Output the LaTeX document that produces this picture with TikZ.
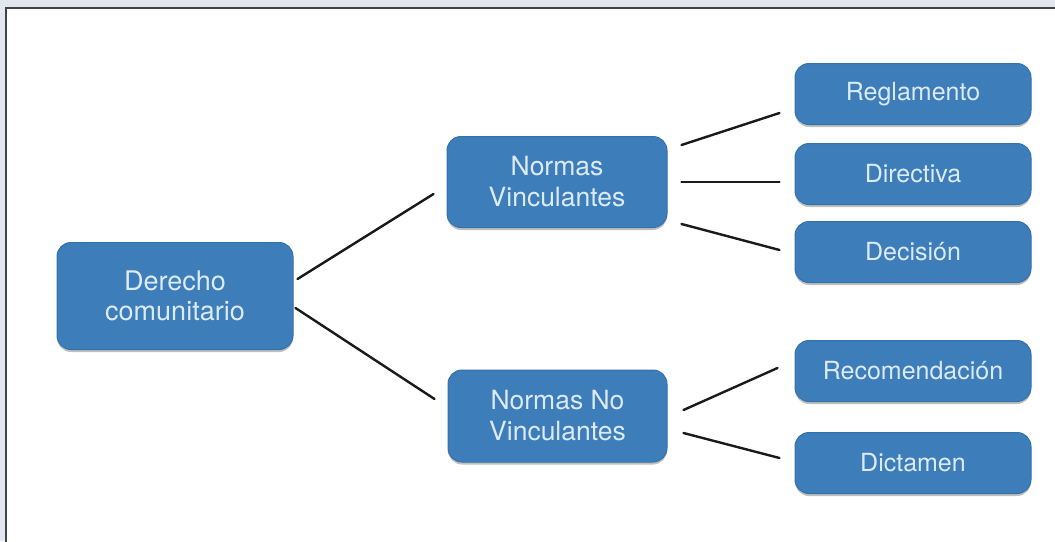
\documentclass[tikz,border=0pt]{standalone}
\usepackage{fontspec}
\setmainfont{TeX Gyre Heros}
\usetikzlibrary{shadows}
\definecolor{bgc}{HTML}{E2E7EF}
\definecolor{boxblue}{HTML}{3C7DBA}
\definecolor{boxedge}{HTML}{3472AD}
\definecolor{txtc}{HTML}{DCEAF6}
\definecolor{framec}{HTML}{444444}
\definecolor{linec}{HTML}{1A1A1A}
\tikzset{
  box/.style={rectangle, rounded corners=14pt, fill=boxblue, draw=boxedge, line width=1pt,
    text=txtc, align=center, inner sep=0pt,
    drop shadow={shadow xshift=0pt, shadow yshift=-2.5pt, opacity=0.25, fill=black}},
  bigbox/.style={box, font=\fontsize{27}{30}\selectfont},
  midbox/.style={box, font=\fontsize{26.5}{31}\selectfont},
  smallbox/.style={box, font=\fontsize{25}{30}\selectfont, minimum width=236pt, minimum height=61pt},
  conn/.style={draw=linec, line width=2.4pt, line cap=round}
}
\begin{document}
\begin{tikzpicture}[x=1pt, y=-1pt]
\useasboundingbox (0,0) rectangle (1055,541);
\clip (0,0) rectangle (1055,541);
\fill[bgc] (0,0) rectangle (1055,541);
\filldraw[fill=white, draw=framec, line width=1.6pt] (6,8) rectangle (1070,560);

\node[bigbox, minimum width=236pt, minimum height=107pt] (dc) at (175,296) {Derecho\\comunitario};
\node[midbox, minimum width=220pt, minimum height=91pt] (nv) at (557,182) {Normas\\Vinculantes};
\node[midbox, minimum width=219pt, minimum height=92pt] (nnv) at (557.5,416) {Normas No\\Vinculantes};

\node[smallbox] (reg) at (913,94) {Reglamento};
\node[smallbox] (dir) at (913,174) {Directiva};
\node[smallbox] (dec) at (913,252) {Decisión};
\node[smallbox] (rec) at (913,371) {Recomendación};
\node[smallbox] (dic) at (913,463) {Dictamen};

\draw[conn] ([shift={(4,-17)}]dc.east) -- ([shift={(-13,12)}]nv.west);
\draw[conn] ([shift={(2,12)}]dc.east) -- ([shift={(-13,-17)}]nnv.west);
\draw[conn] ([shift={(14,-37)}]nv.east) -- ([shift={(-15,19)}]reg.west);
\draw[conn] ([shift={(14,0)}]nv.east) -- ([shift={(-15,8)}]dir.west);
\draw[conn] ([shift={(14,42)}]nv.east) -- ([shift={(-15,-2)}]dec.west);
\draw[conn] ([shift={(16,-6)}]nnv.east) -- ([shift={(-17,-3)}]rec.west);
\draw[conn] ([shift={(16,17)}]nnv.east) -- ([shift={(-15,-5)}]dic.west);
\end{tikzpicture}
\end{document}
